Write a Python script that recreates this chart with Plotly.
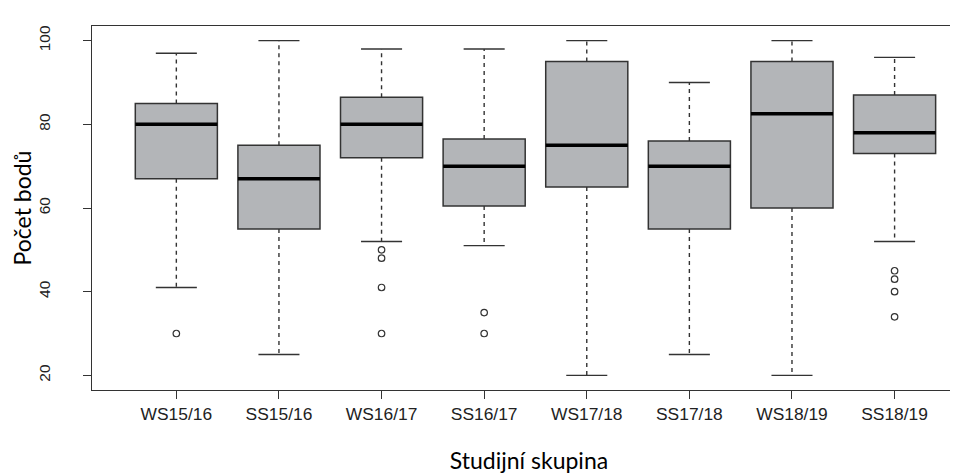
import plotly.graph_objects as go

groups = ["WS15/16", "SS15/16", "WS16/17", "SS16/17", "WS17/18", "SS17/18", "WS18/19", "SS18/19"]
lower_whisker = [41, 25, 52, 51, 20, 25, 20, 52]
q1_values = [67, 55, 72, 60.5, 65, 55, 60, 73]
median_values = [80, 67, 80, 70, 75, 70, 82.5, 78]
q3_values = [85, 75, 86.5, 76.5, 95, 76, 95, 87]
upper_whisker = [97, 100, 98, 98, 100, 90, 100, 96]
outliers = [[30], [], [50, 48, 41, 30], [35, 30], [], [], [], [45, 43, 40, 34]]
y_ticks = [20, 40, 60, 80, 100]

positions = list(range(1, len(groups) + 1))
BOX_W = 0.8
CAP_W = 0.4
EDGE = "#333333"
FILL = "#b3b5b8"

fig = go.Figure()

# boxes (quartiles)
for p, g, lo, q1, md, q3, hi in zip(positions, groups, lower_whisker, q1_values,
                                     median_values, q3_values, upper_whisker):
    fig.add_trace(go.Box(
        x=[p], q1=[q1], median=[md], q3=[q3], lowerfence=[q1], upperfence=[q3],
        width=BOX_W, fillcolor=FILL, line=dict(color=EDGE, width=1.5),
        boxpoints=False, whiskerwidth=0, name=g, showlegend=False, hoverinfo="skip"))

# dashed whiskers
wx, wy = [], []
for p, lo, q1, q3, hi in zip(positions, lower_whisker, q1_values, q3_values, upper_whisker):
    wx += [p, p, None, p, p, None]
    wy += [q3, hi, None, q1, lo, None]
fig.add_trace(go.Scatter(x=wx, y=wy, mode="lines", line=dict(color=EDGE, width=1.4, dash="4px,4px"),
                         showlegend=False, hoverinfo="skip"))

# whisker caps
cx, cy = [], []
for p, lo, hi in zip(positions, lower_whisker, upper_whisker):
    cx += [p - CAP_W / 2, p + CAP_W / 2, None, p - CAP_W / 2, p + CAP_W / 2, None]
    cy += [hi, hi, None, lo, lo, None]
fig.add_trace(go.Scatter(x=cx, y=cy, mode="lines", line=dict(color=EDGE, width=1.4),
                         showlegend=False, hoverinfo="skip"))

# medians
mx, my = [], []
for p, md in zip(positions, median_values):
    mx += [p - BOX_W / 2, p + BOX_W / 2, None]
    my += [md, md, None]
fig.add_trace(go.Scatter(x=mx, y=my, mode="lines", line=dict(color="#000000", width=3.5),
                         showlegend=False, hoverinfo="skip"))

# outliers
ox, oy = [], []
for p, outs in zip(positions, outliers):
    for v in outs:
        ox.append(p)
        oy.append(v)
fig.add_trace(go.Scatter(x=ox, y=oy, mode="markers",
                         marker=dict(symbol="circle-open", size=6.5, color=EDGE, line=dict(width=1.2)),
                         showlegend=False, hoverinfo="skip"))

xtick_font = dict(family="Liberation Sans, Arial, sans-serif", size=17.4, color="#222222")
ytick_font = dict(family="Liberation Sans, Arial, sans-serif", size=15.5, color="#222222")
title_font = dict(family="Lato, Carlito, sans-serif", size=23, color="#000000")

fig.update_layout(
    width=958, height=475,
    margin=dict(l=84, r=0, t=18, b=93),
    paper_bgcolor="white", plot_bgcolor="white",
    xaxis=dict(
        range=[0.178, 8.696], tickmode="array", tickvals=positions, ticktext=groups,
        showgrid=False, zeroline=False, showline=True, mirror=True, linecolor=EDGE, linewidth=1.4,
        ticks="outside", ticklen=8, tickcolor=EDGE, tickwidth=1.2, tickfont=xtick_font,
        ticklabelstandoff=0,
        title=dict(text="Studijní skupina", font=title_font, standoff=29),
    ),
    yaxis=dict(
        range=[16.5, 103.5], tickmode="array", tickvals=y_ticks,
        showgrid=False, zeroline=False, showline=True, mirror=False, linecolor=EDGE, linewidth=1.4,
        ticks="outside", ticklen=8, tickcolor=EDGE, tickwidth=1.2, tickfont=ytick_font,
        tickangle=-90, ticklabelstandoff=27,
        title=dict(text="Počet bodů", font=title_font, standoff=4),
    ),
)

fig.write_html("out.html")
